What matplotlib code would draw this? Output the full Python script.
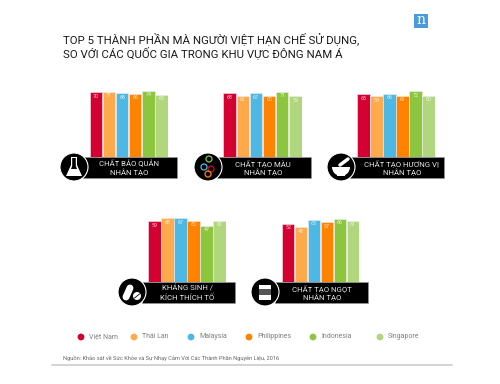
import matplotlib
matplotlib.use('Agg')
import matplotlib.pyplot as plt
from matplotlib.patches import Circle, Rectangle, Polygon, Wedge

plt.rcParams['font.family'] = ['Roboto', 'Noto Sans', 'DejaVu Sans']

countries = ['Việt Nam', 'Thái Lan', 'Malaysia', 'Philippines', 'Indonesia', 'Singapore']
colors = ['#d50032', '#ffa94d', '#4db8e4', '#ff8200', '#8cc63f', '#b0d67e']

labels = ['CHẤT BẢO QUẢN\nNHÂN TẠO', 'CHẤT TẠO MÀU\nNHÂN TẠO', 'CHẤT TẠO HƯƠNG VỊ\nNHÂN TẠO',
          'KHÁNG SINH /\nKÍCH THÍCH TỐ', 'CHẤT TẠO NGỌT\nNHÂN TẠO']
preservative = [70, 71, 68, 66, 74, 63]
colouring = [68, 61, 67, 60, 71, 59]
flavour = [65, 59, 66, 61, 72, 60]
antibiotic = [59, 68, 67, 60, 47, 61]
sweetener = [52, 43, 63, 57, 66, 61]
panels = [preservative, colouring, flavour, antibiotic, sweetener]

title = 'TOP 5 THÀNH PHẦN MÀ NGƯỜI VIỆT HẠN CHẾ SỬ DỤNG,\nSO VỚI CÁC QUỐC GIA TRONG KHU VỰC ĐÔNG NAM Á'
source = 'Nguồn: Khảo sát về Sức Khỏe và Sự Nhạy Cảm Với Các Thành Phần Nguyên Liệu, 2016'

W, H = 500, 384
fig = plt.figure(figsize=(W / 100, H / 100), dpi=100)

# overlay in pixel coordinates for the text, boxes and icons
bg = fig.add_axes([0, 0, 1, 1])
bg.set_xlim(0, W)
bg.set_ylim(H, 0)
bg.axis('off')

# bars left, bars right, baseline px, box left, box right, circle x, label x
layout = [(89.5, 168, 157, 83, 177, 74, 129),
          (223, 302, 157, 217, 311, 208, 263),
          (357, 435, 157, 350, 444, 341, 402),
          (148, 226, 282, 142, 235, 132, 187),
          (282, 359, 282, 275, 368, 265, 322)]


def draw_icon(i, cx, cy):
    if i == 0:  # flask
        bg.add_patch(Polygon([(cx - 3, cy - 10), (cx + 3, cy - 10), (cx + 3, cy - 2), (cx + 8, cy + 9),
                              (cx - 8, cy + 9), (cx - 3, cy - 2)], fc='white', ec='none', zorder=6))
        bg.add_patch(Polygon([(cx - 1.8, cy - 9), (cx + 1.8, cy - 9), (cx + 1.8, cy - 1), (cx + 3, cy + 2),
                              (cx - 3, cy + 2), (cx - 1.8, cy - 1)], fc='black', ec='none', zorder=7))
    elif i == 1:  # molecules
        for dx, dy, c in [(1, -8, '#8cc63f'), (-4, 0, '#4db8e4'), (3, 2, '#d50032'), (0, 7, '#ff8200')]:
            bg.add_patch(Circle((cx + dx, cy + dy), 3, fc='none', ec=c, lw=0.9, zorder=6))
    elif i == 2:  # mortar and pestle
        bg.add_patch(Wedge((cx, cy), 9, 0, 180, fc='white', ec='none', zorder=6))
        bg.plot([cx - 1, cx + 7], [cy - 2, cy - 8], color='white', lw=2.5, solid_capstyle='round', zorder=6)
        bg.add_patch(Rectangle((cx - 4, cy + 7), 8, 1.5, fc='white', ec='none', zorder=6))
    elif i == 3:  # pills
        bg.plot([cx - 6, cx - 2], [cy + 5, cy - 4], color='white', lw=5, solid_capstyle='round', zorder=6)
        bg.add_patch(Circle((cx + 5, cy + 4), 4, fc='white', ec='none', zorder=6))
        bg.plot([cx + 2.5, cx + 7.5], [cy + 6, cy + 2], color='black', lw=0.6, zorder=7)
    else:  # sugar packet
        bg.add_patch(Rectangle((cx - 6, cy - 7), 12, 15, fc='white', ec='none', zorder=6))
        bg.add_patch(Rectangle((cx - 6, cy - 3), 12, 6, fc='#555555', ec='none', zorder=7))


for i, values in enumerate(panels):
    x0, x1, base, box0, box1, cx, lx = layout[i]
    # one unit of value is about 0.37 px, the bars do not start at zero
    ax = fig.add_axes([x0 / W, 1 - base / H, (x1 - x0) / W, 70 / H])
    ax.bar(range(6), [v + 105 for v in values], bottom=-105, width=0.94, color=colors,
           edgecolor='#eeeeee', linewidth=0.4)
    for j, v in enumerate(values):
        ax.text(j, v - 11, str(v), color='white', fontsize=3.8, ha='center', va='center', alpha=0.8)
    ax.set_xlim(-0.5, 5.5)
    ax.set_ylim(-105, 84)
    ax.axis('off')

    bg.add_patch(Rectangle((box0, base), box1 - box0, 21, fc='black', ec='#999999', lw=0.4, zorder=3))
    bg.text(lx, base + 10.5, labels[i], color='#e8e8e8', fontsize=5.6, ha='center', va='center',
            linespacing=1.35, zorder=4)
    cy = base + 10
    bg.add_patch(Circle((cx, cy), 14, fc='black', ec='white', lw=0.8, zorder=5))
    draw_icon(i, cx, cy)

bg.text(63, 45.5, title, fontsize=8.2, color='#1a1a1a', va='center', ha='left', linespacing=1.05)

# logo
bg.add_patch(Rectangle((414, 14), 14, 14, fc='#4a9bd8', ec='none'))
bg.text(421, 20.5, 'n', color='white', fontsize=10, family='DejaVu Serif', ha='center', va='center')

# legend
dot_x = [81, 134, 191, 249, 313, 380]
for x, name, c in zip(dot_x, countries, colors):
    bg.add_patch(Circle((x, 337), 3.4, fc=c, ec='none'))
    bg.text(x + 8, 336.5, name, fontsize=5.0, color='#808080', va='center', ha='left')

bg.text(63, 358, source, fontsize=4.1, color='#666666', va='center', ha='left')
bg.plot([52, 452], [365, 365], color='#cccccc', lw=1.2)

fig.savefig('out.png', dpi=100)
